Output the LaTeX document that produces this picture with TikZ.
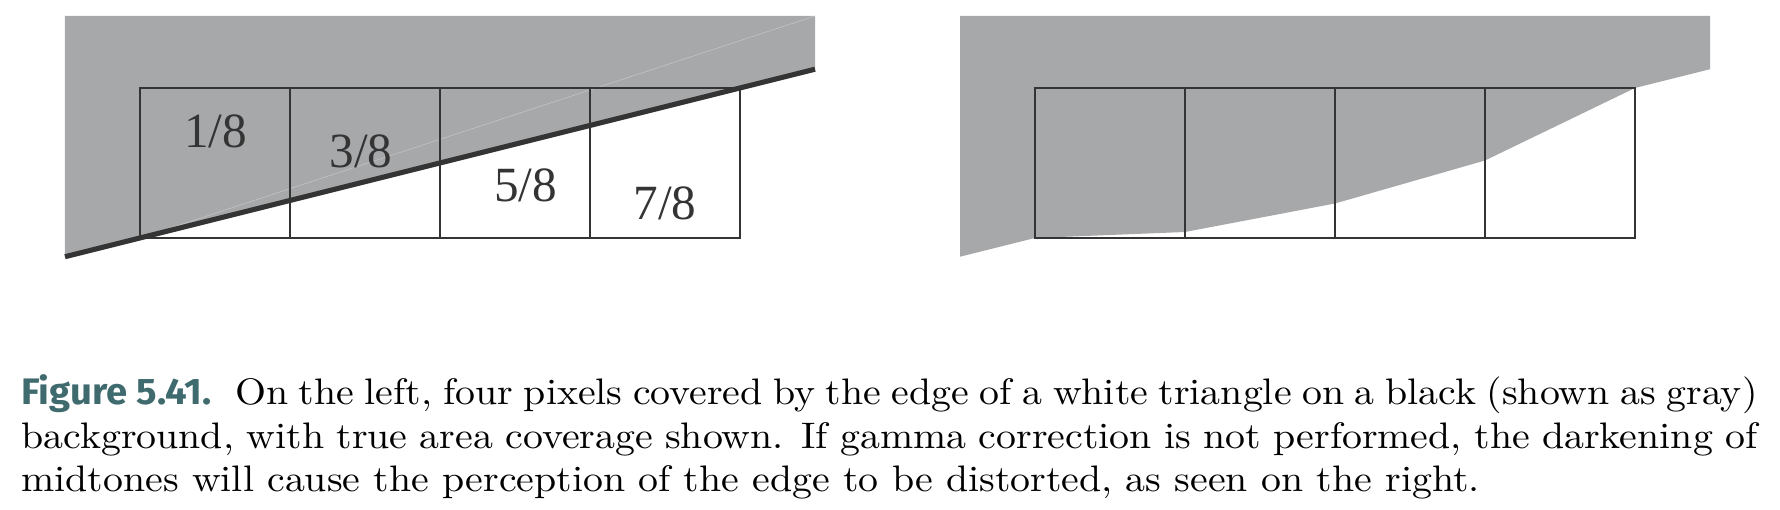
\documentclass[tikz,border=0pt]{standalone}
\usepackage{fontspec}
\newfontfamily\fracfont{Liberation Serif}
\newfontfamily\figfont{Fira Sans}
\newfontfamily\capfont{lmroman10-regular.otf}

\definecolor{bggray}{HTML}{A7A8AA}
\definecolor{edgegray}{HTML}{343434}
\definecolor{capteal}{HTML}{3F6A6E}

\tikzset{
    pixel/.style={draw=edgegray, line width=1.5pt},
    fraclabel/.style={font=\fracfont\fontsize{28}{28}\selectfont, text=edgegray, inner sep=0pt},
    caption/.style={font=\capfont\fontsize{21}{24.9}\selectfont, text width=32.15cm, align=justify,
        inner sep=0pt, anchor=base west, transform shape}
}

\begin{document}
\begin{tikzpicture}
    \useasboundingbox (-2.8,-5.44) rectangle (32.8,4.76);

    % true coverage
    \begin{scope}[shift={(0,0)}]
        \fill[bggray] (-1.5,-0.375) -- (13.5,3.375) -- (13.5,4.44) -- (-1.5,4.44) -- cycle;
        \draw[white, opacity=0.35, line width=0.3pt] (0,0) -- (13.5,4.44);
        \foreach \i in {0,1,2,3}
            \draw[pixel] (3*\i,0) rectangle ++(3,3);
        \draw[edgegray, line width=2.9pt] (-1.5,-0.375) -- (13.5,3.375);
        \node[fraclabel] (one) at (1.51,2.13) {1/8};
        \node[fraclabel] (three) at (4.42,1.74) {3/8};
        \node[fraclabel] (five) at (7.71,1.06) {5/8};
        \node[fraclabel] (seven) at (10.50,0.70) {7/8};
    \end{scope}

    % without gamma correction
    \begin{scope}[shift={(17.9,0)}]
        \fill[bggray] (-1.5,-0.375) -- (0,0) -- (3,0.12) -- (6,0.69) -- (9,1.55) -- (12,3)
            -- (13.5,3.375) -- (13.5,4.44) -- (-1.5,4.44) -- cycle;
        \foreach \i in {0,1,2,3}
            \draw[pixel] (3*\i,0) rectangle ++(3,3);
    \end{scope}

    \begin{scope}[shift={(-2.38,-3.326)}, xscale=1.08]
        \node[caption] (cap) at (0,0) {{\figfont\bfseries\color{capteal}\scalebox{0.96}[1]{Figure 5.41.}}\hspace{0.6em}%
            On the left, four pixels covered by the edge of a white triangle on a black (shown as gray)\linebreak
            background, with true area coverage shown. If gamma correction is not performed, the darkening of\linebreak
            midtones will cause the perception of the edge to be distorted, as seen on the right.};
    \end{scope}
\end{tikzpicture}
\end{document}
